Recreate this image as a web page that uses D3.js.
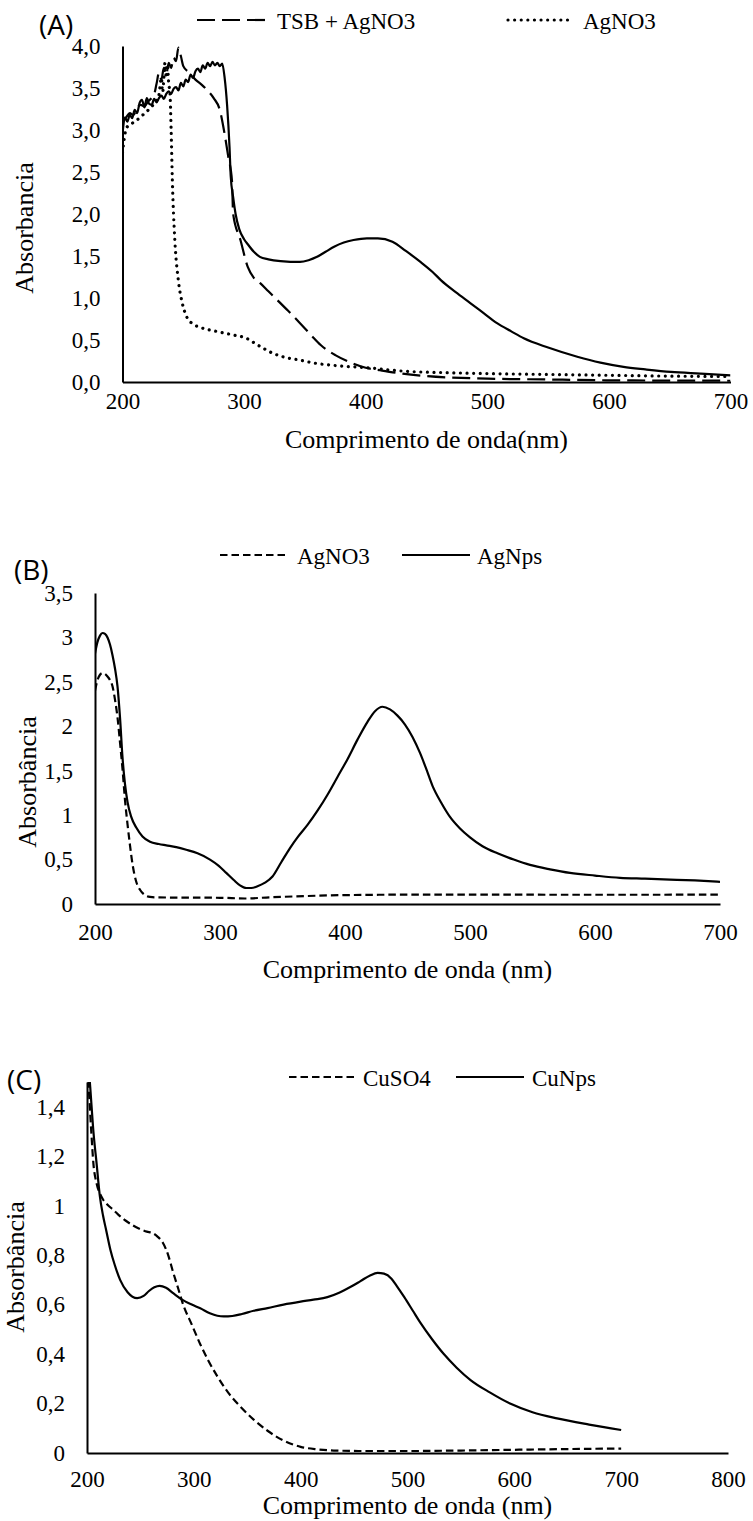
<!DOCTYPE html>
<html>
<head>
<meta charset="utf-8">
<script src="https://cdn.jsdelivr.net/npm/d3@7"></script>
<style>
  body { margin: 0; background: #fff; }
  svg { display: block; }
</style>
</head>
<body>
<svg id="chart"></svg>
<script>
// UV-Vis spectra, three panels. Points are [wavelength nm, absorbance]

// (A)
const tsbAgno3A = [[200,3.1],[203,3.15],[206,3.2],[209,3.18],[212,3.26],[215,3.3],[218,3.28],[221,3.34],[224,3.38],[226,3.42],[228,3.55],[230,3.68],[232,3.6],[234,3.74],[236,3.66],[238,3.8],[240,3.74],[242,3.86],[244,3.82],[246,3.98],[248,3.88],[250,3.76],[255,3.68],[260,3.6],[265,3.54],[270,3.47],[275,3.38],[280,3.24],[284,2.95],[287,2.68],[290,2.4],[291,2.0],[297,1.69],[303,1.37],[308,1.24],[313,1.18],[320,1.08],[327,0.98],[336,0.85],[346,0.7],[355,0.56],[363,0.44],[375,0.32],[388,0.23],[400,0.17],[412,0.14],[430,0.1],[450,0.07],[500,0.04],[550,0.03],[600,0.02],[700,0.015]]
const agno3A = [[200,2.73],[202,2.95],[204,3.04],[208,3.08],[212,3.12],[216,3.17],[220,3.22],[224,3.28],[228,3.35],[230,3.42],[232,3.62],[233,3.45],[235,3.8],[236,3.62],[237,3.78],[238,3.55],[239,3.45],[240,3.0],[241,2.4],[243,1.7],[246,1.2],[249,0.95],[253,0.77],[258,0.69],[264,0.65],[278,0.6],[291,0.56],[302,0.52],[309,0.46],[316,0.4],[324,0.34],[332,0.3],[346,0.26],[360,0.22],[380,0.19],[401,0.17],[430,0.13],[470,0.11],[500,0.1],[550,0.09],[600,0.08],[650,0.07],[700,0.065]]
const agNpsA = [[200,2.95],[202,3.15],[204,3.1],[206,3.18],[208,3.14],[210,3.24],[212,3.2],[214,3.32],[216,3.36],[218,3.27],[220,3.38],[222,3.31],[224,3.3],[226,3.37],[228,3.33],[230,3.38],[232,3.41],[234,3.37],[236,3.43],[238,3.46],[240,3.43],[242,3.49],[244,3.51],[246,3.47],[248,3.56],[250,3.52],[252,3.6],[254,3.57],[256,3.66],[258,3.62],[260,3.7],[262,3.73],[264,3.69],[266,3.77],[268,3.73],[270,3.8],[272,3.76],[274,3.81],[276,3.77],[278,3.8],[280,3.76],[282,3.79],[284,3.62],[286,3.3],[288,2.8],[289,2.45],[291,2.2],[293,2.0],[296,1.82],[300,1.7],[303,1.64],[308,1.55],[313,1.49],[320,1.46],[330,1.44],[346,1.43],[353,1.45],[360,1.49],[367,1.55],[374,1.61],[382,1.66],[390,1.69],[401,1.71],[410,1.71],[422,1.67],[433,1.56],[445,1.43],[455,1.31],[462,1.21],[474,1.07],[486,0.94],[497,0.82],[508,0.7],[520,0.6],[530,0.52],[550,0.41],[574,0.3],[593,0.23],[612,0.18],[630,0.15],[651,0.12],[675,0.1],[700,0.08]]
const xTicksA = [200,300,400,500,600,700]
const yTicksA = [0,0.5,1,1.5,2,2.5,3,3.5,4]

// (B)
const agno3B = [[200,2.4],[202,2.52],[204,2.58],[206,2.6],[208,2.59],[210,2.56],[212,2.52],[214,2.45],[216,2.3],[218,2.1],[220,1.82],[222,1.52],[224,1.17],[226,0.9],[228,0.66],[230,0.45],[233,0.25],[236,0.16],[240,0.1],[244,0.08],[250,0.074],[270,0.072],[300,0.07],[320,0.062],[340,0.075],[370,0.09],[400,0.1],[450,0.105],[500,0.105],[600,0.104],[700,0.105]]
const agNpsB = [[200,2.82],[202,2.95],[204,3.02],[206,3.05],[208,3.04],[210,3.0],[212,2.92],[214,2.8],[216,2.65],[218,2.45],[220,2.1],[222,1.65],[224,1.35],[226,1.15],[229,0.98],[233,0.86],[238,0.76],[244,0.7],[251,0.675],[257,0.66],[265,0.64],[273,0.61],[282,0.57],[292,0.5],[299,0.43],[305,0.35],[311,0.27],[316,0.21],[321,0.18],[325,0.18],[330,0.2],[336,0.24],[342,0.31],[349,0.47],[356,0.63],[362,0.75],[370,0.89],[378,1.05],[386,1.23],[394,1.43],[402,1.63],[410,1.85],[418,2.05],[424,2.17],[430,2.22],[436,2.19],[442,2.12],[448,2.02],[454,1.88],[460,1.7],[465,1.52],[470,1.33],[477,1.14],[484,0.98],[492,0.85],[500,0.75],[510,0.65],[522,0.57],[535,0.5],[548,0.44],[564,0.39],[580,0.35],[600,0.32],[620,0.295],[640,0.285],[660,0.275],[680,0.265],[700,0.25]]
const xTicksB = [200,300,400,500,600,700]
const yTicksB = [0,0.5,1,1.5,2,2.5,3,3.5]

// (C)
const cuso4C = [[200,1.6],[202,1.45],[204,1.3],[206,1.17],[209,1.09],[212,1.05],[215,1.025],[219,1.005],[224,0.985],[229,0.965],[236,0.94],[243,0.92],[250,0.905],[256,0.895],[261,0.89],[266,0.875],[271,0.85],[276,0.8],[280,0.74],[285,0.67],[290,0.6],[298,0.52],[306,0.44],[314,0.37],[322,0.31],[332,0.245],[343,0.19],[356,0.135],[369,0.09],[384,0.05],[400,0.025],[415,0.015],[431,0.01],[460,0.008],[500,0.008],[550,0.01],[600,0.013],[650,0.016],[700,0.018]]
const cuNpsC = [[200,1.65],[203,1.48],[206,1.3],[209,1.17],[212,1.04],[215,0.96],[218,0.9],[222,0.82],[226,0.76],[231,0.7],[238,0.65],[247,0.626],[253,0.635],[258,0.655],[263,0.67],[268,0.676],[274,0.668],[281,0.645],[289,0.62],[298,0.6],[306,0.585],[315,0.565],[322,0.555],[328,0.552],[336,0.554],[345,0.562],[356,0.575],[369,0.586],[384,0.6],[400,0.612],[412,0.62],[425,0.63],[436,0.648],[446,0.67],[456,0.695],[465,0.718],[472,0.728],[478,0.725],[485,0.705],[490,0.675],[497,0.63],[505,0.575],[512,0.527],[523,0.46],[534,0.4],[546,0.345],[559,0.295],[577,0.245],[596,0.2],[617,0.165],[640,0.14],[670,0.115],[700,0.093]]
const xTicksC = [200,300,400,500,600,700,800]
const yTicksC = [0,0.2,0.4,0.6,0.8,1,1.2,1.4]

let width = 753
let height = 1521
let serif = "Liberation Serif, Times New Roman, serif"

let svg = d3.select('#chart').attr('width', width).attr('height', height)

let ptBR = d3.formatLocale({decimal: ",", thousands: ".", grouping: [3], currency: ["", ""]})

let styles = {
  solid: {dash: null, cap: 'butt', w: 2.2},
  longDash: {dash: '18 7', cap: 'butt', w: 2.2},
  dots: {dash: '0.01 6.6', cap: 'round', w: 3.2},
  shortDash: {dash: '7.5 4', cap: 'butt', w: 2.2}
}

let panels = [
  {
    id: 'A', letter: '(A)', letterPos: [39, 35],
    xDomain: [200, 700], xRange: [122.5, 730.5], yDomain: [0, 4], yRange: [382, 46],
    xTicks: xTicksA, yTicks: yTicksA, yFormat: ptBR.format('.1f'), xPad: 11,
    xTitle: 'Comprimento de onda(nm)', xTitleY: 448, yTitle: 'Absorbancia', yTitlePos: [33, 228],
    series: [
      {data: tsbAgno3A, style: 'longDash'},
      {data: agno3A, style: 'dots'},
      {data: agNpsA, style: 'solid'}
    ],
    legend: [
      {label: 'TSB + AgNO3', style: 'longDash', x0: 197, x1: 265, tx: 277},
      {label: 'AgNO3', style: 'dots', x0: 508, x1: 572, tx: 583}
    ],
    legendY: 20
  },
  {
    id: 'B', letter: '(B)', letterPos: [14, 580],
    xDomain: [200, 700], xRange: [95, 720], yDomain: [0, 3.5], yRange: [904, 593],
    xTicks: xTicksB, yTicks: yTicksB, yFormat: ptBR.format('.1~f'), xPad: 20,
    xTitle: 'Comprimento de onda (nm)', xTitleY: 978, yTitle: 'Absorbância', yTitlePos: [36, 782],
    series: [
      {data: agno3B, style: 'shortDash'},
      {data: agNpsB, style: 'solid'}
    ],
    legend: [
      {label: 'AgNO3', style: 'shortDash', x0: 220, x1: 288, tx: 297},
      {label: 'AgNps', style: 'solid', x0: 402, x1: 470, tx: 477}
    ],
    legendY: 555
  },
  {
    id: 'C', letter: '(C)', letterPos: [7, 1090],
    xDomain: [200, 800], xRange: [87, 728], yDomain: [0, 1.5], yRange: [1453, 1082],
    xTicks: xTicksC, yTicks: yTicksC, yFormat: ptBR.format('.1~f'), xPad: 18,
    xTitle: 'Comprimento de onda (nm)', xTitleY: 1514, yTitle: 'Absorbância', yTitlePos: [24, 1267],
    series: [
      {data: cuso4C, style: 'shortDash'},
      {data: cuNpsC, style: 'solid'}
    ],
    legend: [
      {label: 'CuSO4', style: 'shortDash', x0: 289, x1: 355, tx: 363},
      {label: 'CuNps', style: 'solid', x0: 456, x1: 524, tx: 532}
    ],
    legendY: 1077
  }
]

let applyStyle = (sel, name) => {
  let s = styles[name]
  sel.attr('fill', 'none')
     .attr('stroke', '#000')
     .attr('stroke-width', s.w)
     .attr('stroke-linecap', s.cap)
     .attr('stroke-dasharray', s.dash)
}

let drawPanel = (p) => {
  let xScale = d3.scaleLinear().domain(p.xDomain).range(p.xRange)
  let yScale = d3.scaleLinear().domain(p.yDomain).range(p.yRange)

  let g = svg.append('g').attr('id', 'panel-' + p.id)

  // clip curves to the plot area
  g.append('clipPath')
   .attr('id', 'clip-' + p.id)
   .append('rect')
   .attr('x', p.xRange[0])
   .attr('y', p.yRange[1])
   .attr('width', p.xRange[1] - p.xRange[0])
   .attr('height', p.yRange[0] - p.yRange[1] + 2)

  let line = d3.line()
               .x((d) => xScale(d[0]))
               .y((d) => yScale(d[1]))
               .curve(d3.curveMonotoneX)

  g.append('g')
   .attr('clip-path', 'url(#clip-' + p.id + ')')
   .selectAll('path')
   .data(p.series)
   .enter()
   .append('path')
   .attr('d', (s) => line(s.data))
   .each(function(s) { applyStyle(d3.select(this), s.style) })

  let xAxis = d3.axisBottom(xScale)
                .tickValues(p.xTicks)
                .tickFormat(d3.format('d'))
                .tickSize(0)
                .tickPadding(p.xPad)

  let yAxis = d3.axisLeft(yScale)
                .tickValues(p.yTicks)
                .tickFormat(p.yFormat)
                .tickSize(0)
                .tickPadding(22)

  let gx = g.append('g')
            .attr('transform', 'translate(0,' + p.yRange[0] + ')')
            .call(xAxis)
  let gy = g.append('g')
            .attr('transform', 'translate(' + p.xRange[0] + ',0)')
            .call(yAxis)

  ;[gx, gy].forEach((ax) => {
    ax.attr('font-family', null).attr('font-size', null)
    ax.select('.domain').attr('stroke', '#000').attr('stroke-width', 2)
    ax.selectAll('text')
      .attr('fill', '#000')
      .style('font-family', serif)
      .style('font-size', '23px')
  })

  // axis titles
  g.append('text')
   .attr('x', (p.xRange[0] + p.xRange[1]) / 2)
   .attr('y', p.xTitleY)
   .attr('text-anchor', 'middle')
   .style('font-family', serif)
   .style('font-size', '26px')
   .text(p.xTitle)

  g.append('text')
   .attr('transform', 'translate(' + p.yTitlePos[0] + ',' + p.yTitlePos[1] + ') rotate(-90)')
   .attr('text-anchor', 'middle')
   .style('font-family', serif)
   .style('font-size', '26px')
   .text(p.yTitle)

  // panel letter
  g.append('text')
   .attr('x', p.letterPos[0])
   .attr('y', p.letterPos[1])
   .style('font-family', "Open Sans, sans-serif")
   .style('font-size', '28px')
   .text(p.letter)

  // legend
  let lg = g.append('g').selectAll('g').data(p.legend).enter().append('g')
  lg.append('line')
    .attr('x1', (d) => d.x0)
    .attr('x2', (d) => d.x1)
    .attr('y1', p.legendY)
    .attr('y2', p.legendY)
    .each(function(d) { applyStyle(d3.select(this), d.style) })
  lg.append('text')
    .attr('x', (d) => d.tx)
    .attr('y', p.legendY + 9)
    .style('font-family', serif)
    .style('font-size', '23px')
    .text((d) => d.label)
}

panels.forEach(drawPanel)
</script>
</body>
</html>
